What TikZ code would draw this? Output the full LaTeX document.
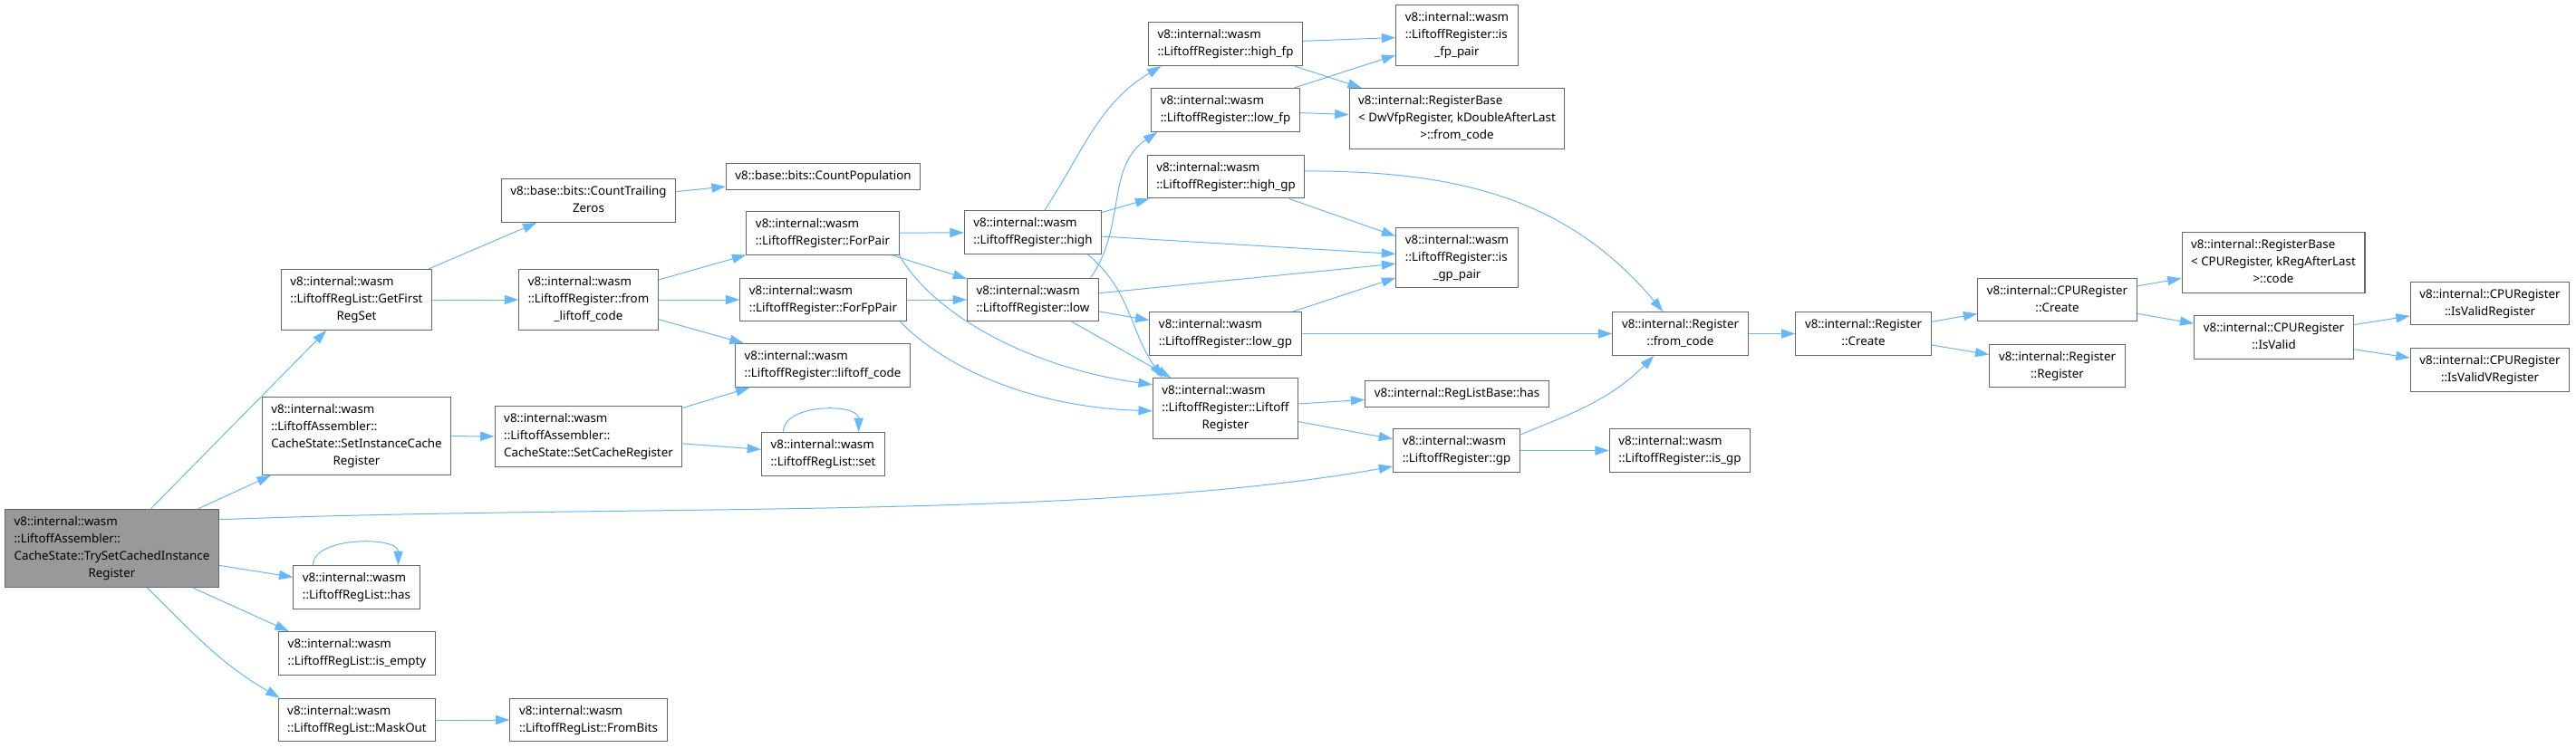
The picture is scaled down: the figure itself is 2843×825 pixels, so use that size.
\documentclass[tikz,border=0pt]{standalone}
\usepackage{fontspec}
\setmainfont{Noto Sans}
\usepackage{tikz}
\usetikzlibrary{arrows.meta}
\definecolor{EdgeBlue}{RGB}{99,184,255}
\definecolor{FrameGray}{RGB}{102,102,102}
\definecolor{RootGray}{RGB}{153,153,153}
% lines flush left, last line centred
\newcommand{\fnl}[2]{\begin{tabular}{@{}l@{}}#1\\\multicolumn{1}{@{}c@{}}{#2}\end{tabular}}
\newcommand{\fno}[1]{\begin{tabular}{@{}c@{}}#1\end{tabular}}
\tikzset{
  fnbox/.style={draw=FrameGray, fill=white, line width=0.8pt, inner xsep=7.6pt, inner ysep=3.7pt,
    font=\fontsize{10}{14.25}\selectfont},
  fnroot/.style={fnbox, fill=RootGray},
  callto/.style={EdgeBlue, line width=0.75pt, -{Triangle[length=11.5pt,width=7.6pt]}},
}

\begin{document}
\begin{tikzpicture}[x=0.75pt, y=-0.75pt]
    % Canvas
    \fill[white] (0,0) rectangle (2843,825);
    \useasboundingbox (0,0) rectangle (2843,825);
    % Caller
    \node[fnroot] (root) at (123.5,605.5) {\fnl{v8::internal::wasm\\::LiftoffAssembler::\\CacheState::TrySetCachedInstance}{Register}};
    % Column 1
    \node[fnbox] (firstset) at (393.5,331) {\fnl{v8::internal::wasm\\::LiftoffRegList::GetFirst}{RegSet}};
    \node[fnbox] (setinst) at (393.5,481.5) {\fnl{v8::internal::wasm\\::LiftoffAssembler::\\CacheState::SetInstanceCache}{Register}};
    \node[fnbox] (lhas) at (393.5,648.5) {\fnl{v8::internal::wasm}{::LiftoffRegList::has}};
    \node[fnbox] (lempty) at (394,721.5) {\fnl{v8::internal::wasm}{::LiftoffRegList::is\_empty}};
    \node[fnbox] (maskout) at (394,795) {\fnl{v8::internal::wasm}{::LiftoffRegList::MaskOut}};
    % Column 2
    \node[fnbox] (ctz) at (649.5,221.5) {\fnl{v8::base::bits::CountTrailing}{Zeros}};
    \node[fnbox] (fromlc) at (649.5,331) {\fnl{v8::internal::wasm\\::LiftoffRegister::from}{\_liftoff\_code}};
    \node[fnbox] (setcache) at (649.5,482) {\fnl{v8::internal::wasm\\::LiftoffAssembler::}{CacheState::SetCacheRegister}};
    \node[fnbox] (frombits) at (649.5,795) {\fnl{v8::internal::wasm}{::LiftoffRegList::FromBits}};
    % Column 3
    \node[fnbox] (cpop) at (908.5,195) {\fno{v8::base::bits::CountPopulation}};
    \node[fnbox] (forpair) at (908,257.5) {\fnl{v8::internal::wasm}{::LiftoffRegister::ForPair}};
    \node[fnbox] (forfp) at (908.5,331) {\fnl{v8::internal::wasm}{::LiftoffRegister::ForFpPair}};
    \node[fnbox] (liftcode) at (908,403.5) {\fnl{v8::internal::wasm}{::LiftoffRegister::liftoff\_code}};
    \node[fnbox] (lset) at (908.5,501.5) {\fnl{v8::internal::wasm}{::LiftoffRegList::set}};
    % Column 4
    \node[fnbox] (high) at (1140,256.5) {\fnl{v8::internal::wasm}{::LiftoffRegister::high}};
    \node[fnbox] (low) at (1140,331) {\fnl{v8::internal::wasm}{::LiftoffRegister::low}};
    % Column 5
    \node[fnbox] (highfp) at (1352.5,48.5) {\fnl{v8::internal::wasm}{::LiftoffRegister::high\_fp}};
    \node[fnbox] (lowfp) at (1352.5,121.5) {\fnl{v8::internal::wasm}{::LiftoffRegister::low\_fp}};
    \node[fnbox] (highgp) at (1353,195) {\fnl{v8::internal::wasm}{::LiftoffRegister::high\_gp}};
    \node[fnbox] (lowgp) at (1352.5,368.5) {\fnl{v8::internal::wasm}{::LiftoffRegister::low\_gp}};
    \node[fnbox] (lreg) at (1352.5,451) {\fnl{v8::internal::wasm\\::LiftoffRegister::Liftoff}{Register}};
    % Column 6
    \node[fnbox] (isfp) at (1608,39) {\fnl{v8::internal::wasm\\::LiftoffRegister::is}{\_fp\_pair}};
    \node[fnbox] (rbdw) at (1608,131) {\fnl{v8::internal::RegisterBase\\< DwVfpRegister, kDoubleAfterLast}{>::from\_code}};
    \node[fnbox] (isgpp) at (1608,284.5) {\fnl{v8::internal::wasm\\::LiftoffRegister::is}{\_gp\_pair}};
    \node[fnbox] (rlhas) at (1608,435) {\fno{v8::internal::RegListBase::has}};
    \node[fnbox] (gp) at (1607.5,497.5) {\fnl{v8::internal::wasm}{::LiftoffRegister::gp}};
    % Column 7
    \node[fnbox] (rfrom) at (1854.5,368.5) {\fnl{v8::internal::Register}{::from\_code}};
    \node[fnbox] (isgp) at (1854,497.5) {\fnl{v8::internal::wasm}{::LiftoffRegister::is\_gp}};
    % Columns 8 to 11
    \node[fnbox] (rcreate) at (2056.5,368.5) {\fnl{v8::internal::Register}{::Create}};
    \node[fnbox] (cpucreate) at (2270.5,331) {\fnl{v8::internal::CPURegister}{::Create}};
    \node[fnbox] (rreg) at (2270.5,404) {\fnl{v8::internal::Register}{::Register}};
    \node[fnbox] (rbcpu) at (2509,290) {\fnl{v8::internal::RegisterBase\\< CPURegister, kRegAfterLast}{>::code}};
    \node[fnbox] (isvalid) at (2509.5,372.5) {\fnl{v8::internal::CPURegister}{::IsValid}};
    \node[fnbox] (isvreg) at (2748,335) {\fnl{v8::internal::CPURegister}{::IsValidRegister}};
    \node[fnbox] (isvvreg) at (2748,408.5) {\fnl{v8::internal::CPURegister}{::IsValidVRegister}};
    % Straight calls
    \foreach \a/\b in {root/firstset, root/setinst, root/lhas, firstset/ctz, firstset/fromlc, ctz/cpop,
        fromlc/forpair, fromlc/forfp, fromlc/liftcode, setinst/setcache, setcache/liftcode, setcache/lset,
        maskout/frombits, forpair/high, forpair/low, forfp/low, high/highgp, high/isgpp, low/isgpp,
        low/lowgp, low/lreg, highfp/isfp, highfp/rbdw, lowfp/isfp, lowfp/rbdw, highgp/isgpp, lowgp/isgpp,
        lowgp/rfrom, lreg/rlhas, lreg/gp, gp/isgp, rfrom/rcreate, rcreate/cpucreate, rcreate/rreg,
        cpucreate/rbcpu, cpucreate/isvalid, isvalid/isvreg, isvalid/isvvreg}
        {\draw[callto] (\a) -- (\b);}
    % Bent calls
    \draw[callto] (root.-26) -- (lempty.162);
    \draw[callto] (root.-48) to[out=-45,in=150] (maskout.164);
    \draw[callto] (root.15) .. controls (700,556) and (1200,575) .. (gp.194);
    \draw[callto] (forpair.south east) .. controls +(36,63) and +(-141,-20) .. (lreg.162);
    \draw[callto] (forfp.-16) .. controls +(38,40) and +(-150,-5) .. (lreg.182);
    \draw[callto] (high.62) to[out=57,in=211] (highfp.199);
    \draw[callto] (high.-22) to[out=-40,in=125] (lreg.154);
    \draw[callto] (low.21) to[out=55,in=214] (lowfp.198);
    \draw[callto] (highgp.4) to[out=0,in=130] (rfrom.128);
    \draw[callto] (gp.14) to[out=22,in=225] (rfrom.220);
    % Recursive calls
    \draw[callto] (lhas.153) .. controls +(0,-32) and +(0,-32) .. (lhas.28);
    \draw[callto] (lset.151) .. controls +(0,-32) and +(0,-32) .. (lset.32);
\end{tikzpicture}
\end{document}
